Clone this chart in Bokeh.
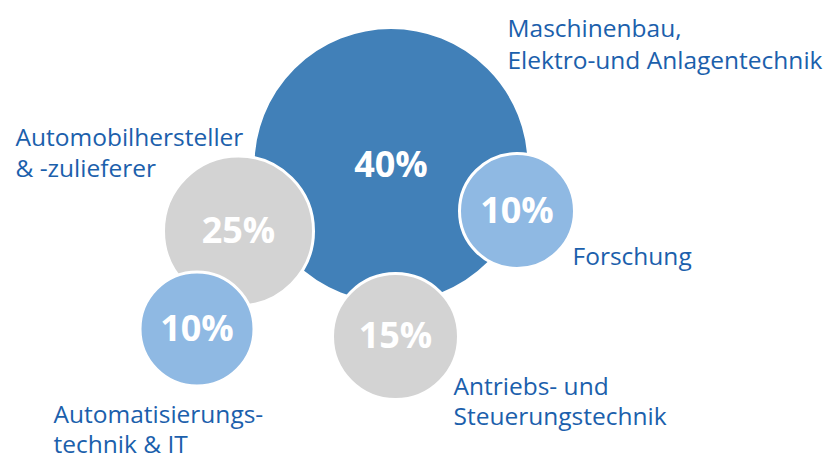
from bokeh.plotting import figure
from bokeh.models import Range1d, ColumnDataSource
from bokeh.core.properties import value
from bokeh.embed import file_html
from bokeh.resources import INLINE

# ---- data ----
categories = [
    "Maschinenbau,\nElektro-und Anlagentechnik",
    "Automobilhersteller\n& -zulieferer",
    "Automatisierungs-\ntechnik & IT",
    "Antriebs- und\nSteuerungstechnik",
    "Forschung",
]
shares = [40, 25, 10, 15, 10]

# ---- layout (pixel space of the picture) ----
bubble_x = [390.5, 238, 196.5, 395, 516.5]
bubble_y = [165, 230.5, 328.5, 336, 210.5]
bubble_r = [138, 75, 57, 63, 57.5]
bubble_colors = ["#4180B8", "#D3D3D3", "#8FB9E3", "#D3D3D3", "#8FB9E3"]

label_x = [507, 15, 53, 453, 572]
label_y = [27, 136, 413, 385, 255]
line_gap = [31.5, 31, 29.5, 30, 30]

W, H = 827, 459
p = figure(width=W, height=H, output_backend="svg", toolbar_location=None,
           x_range=Range1d(0, W), y_range=Range1d(H, 0),
           x_axis_type=None, y_axis_type=None,
           min_border=0, min_border_left=0, min_border_right=0,
           min_border_top=0, min_border_bottom=0)
p.grid.visible = False
p.outline_line_color = None
p.background_fill_color = "white"
p.border_fill_color = "white"

src = ColumnDataSource(dict(x=bubble_x, y=bubble_y, r=bubble_r, c=bubble_colors,
                            t=[f"{s}%" for s in shares]))
p.circle(x="x", y="y", radius="r", fill_color="c", line_color="white",
         line_width=3, source=src)
p.text(x="x", y="y", text="t", source=src, text_color="white",
       text_font=value("Open Sans"), text_font_style="bold",
       text_font_size="36px", text_align="center", text_baseline="middle",
       y_offset=-2)

lx, ly, lt = [], [], []
for cat, x0, y0, g in zip(categories, label_x, label_y, line_gap):
    for i, line in enumerate(cat.split("\n")):
        lx.append(x0)
        ly.append(y0 + i * g)
        lt.append(line)
p.text(x=lx, y=ly, text=lt, text_color="#1B60AC",
       text_font=value("Open Sans"), text_font_size="24.5px",
       text_align="left", text_baseline="alphabetic")

open("out.html", "w").write(file_html(p, INLINE))
